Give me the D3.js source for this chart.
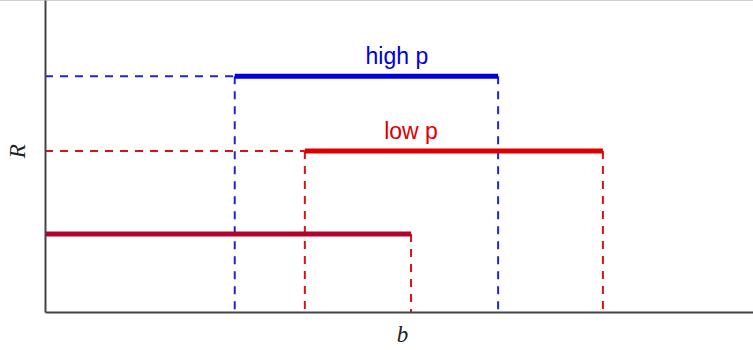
<!DOCTYPE html>
<html>
<head>
<meta charset="utf-8">
<script src="https://cdn.jsdelivr.net/npm/d3@7"></script>
<style>
  body { margin: 0; background: #fff; }
  svg { display: block; }
</style>
</head>
<body>
<svg id="chart"></svg>
<script>
// b ranges and R levels (arbitrary units 0..100)
const seriesNames = ["high p", "low p", "base"];
const bStart = [26.8, 36.7, 0];
const bEnd = [64.0, 78.8, 51.7];
const rLevel = [75.6, 51.6, 25.0];
const colors = ["#0000dd", "#dd0000", "#b5002c"];
const dropColors = ["#2222dd", "#dd1111", "#dd1111"];
const labelX = [49.7, 51.7, null];

const width = 753, height = 350;
const margin = { top: 0, right: 0, bottom: 38, left: 45 };
const innerWidth = width - margin.left - margin.right;
const innerHeight = height - margin.top - margin.bottom;

const svg = d3.select("#chart").attr("width", width).attr("height", height);

// light frame line at the very top
svg.append("line").attr("x1", 0).attr("x2", width).attr("y1", 0.5).attr("y2", 0.5)
  .attr("stroke", "#d0d0d0").attr("stroke-width", 1);

const g = svg.append("g").attr("transform", `translate(${margin.left},${margin.top})`);

const x = d3.scaleLinear().domain([0, 100]).range([0, innerWidth]);
const y = d3.scaleLinear().domain([0, 100]).range([innerHeight, 0]);

const data = seriesNames.map((name, i) => ({
  name, b0: bStart[i], b1: bEnd[i], r: rLevel[i], color: colors[i], drop: dropColors[i], lx: labelX[i]
}));

// dashed guides
data.forEach((d) => {
  if (d.b0 > 0) {
    g.append("line").attr("x1", x(0)).attr("x2", x(d.b0)).attr("y1", y(d.r)).attr("y2", y(d.r))
      .attr("stroke", d.drop).attr("stroke-width", 2).attr("stroke-dasharray", "8,7");
    g.append("line").attr("x1", x(d.b0)).attr("x2", x(d.b0)).attr("y1", y(d.r)).attr("y2", y(0))
      .attr("stroke", d.drop).attr("stroke-width", 2).attr("stroke-dasharray", "8,7");
  }
  g.append("line").attr("x1", x(d.b1)).attr("x2", x(d.b1)).attr("y1", y(d.r)).attr("y2", y(0))
    .attr("stroke", d.drop).attr("stroke-width", 2).attr("stroke-dasharray", "8,7");
});

// solid segments
g.selectAll(".seg").data(data).join("line").attr("class", "seg")
  .attr("x1", (d) => x(d.b0)).attr("x2", (d) => x(d.b1))
  .attr("y1", (d) => y(d.r)).attr("y2", (d) => y(d.r))
  .attr("stroke", (d) => d.color).attr("stroke-width", 5);

// labels
g.selectAll(".lbl").data(data.filter((d) => d.lx !== null)).join("text").attr("class", "lbl")
  .attr("x", (d) => x(d.lx)).attr("y", (d) => y(d.r) - 12)
  .attr("text-anchor", "middle")
  .style("font-family", "'Liberation Sans', Arial, sans-serif").style("font-size", "23px")
  .attr("fill", (d) => d.color).text((d) => d.name);

// axes without ticks
g.append("g").attr("transform", `translate(0,${innerHeight})`)
  .call(d3.axisBottom(x).tickValues([]).tickSizeOuter(0))
  .select(".domain").attr("stroke", "#444").attr("stroke-width", 2);
g.append("g")
  .call(d3.axisLeft(y).tickValues([]).tickSizeOuter(0))
  .select(".domain").attr("stroke", "#444").attr("stroke-width", 2);

// axis titles
g.append("text").attr("x", x(50.5)).attr("y", innerHeight + 30)
  .attr("text-anchor", "middle")
  .style("font-family", "'Liberation Serif', 'DejaVu Serif', serif").style("font-style", "italic").style("font-size", "23px")
  .attr("fill", "#222").text("b");
g.append("text").attr("transform", `translate(-20,${y(51.5)}) rotate(-90)`)
  .attr("text-anchor", "middle")
  .style("font-family", "'Liberation Serif', 'DejaVu Serif', serif").style("font-style", "italic").style("font-size", "23px")
  .attr("fill", "#222").text("R");
</script>
</body>
</html>
